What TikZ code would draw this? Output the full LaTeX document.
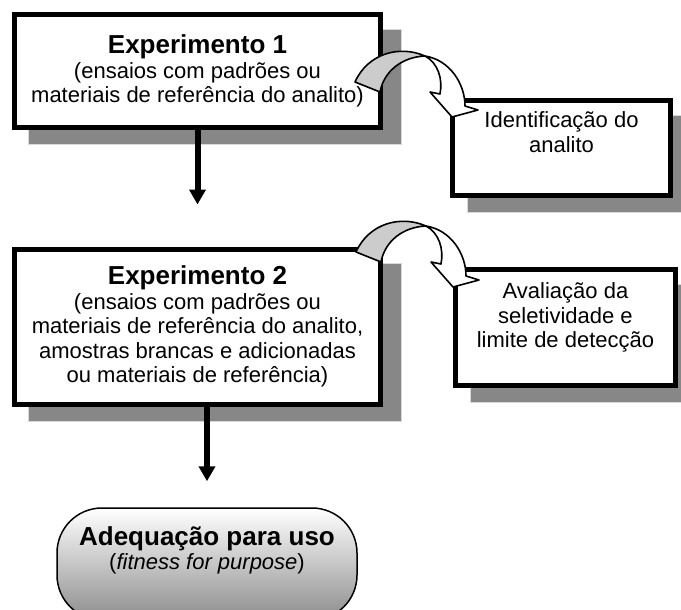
\documentclass[tikz,border=0pt]{standalone}
\usepackage{fontspec}
\setmainfont{Liberation Sans}
\usetikzlibrary{arrows.meta,
                shadows}

\definecolor{shadowgray}{gray}{0.53}
\definecolor{bandgray}{gray}{0.8}

\newcommand{\boxtitle}[1]{{\fontsize{26}{24.5}\selectfont\bfseries #1}}

\tikzset{
  bodyfont/.style = {font=\fontsize{22}{24.5}\selectfont},
  boxshadow/.style = {drop shadow={shadow xshift=17pt, shadow yshift=-16pt,
                      shadow scale=1.02, fill=shadowgray, draw=black!15,
                      line width=1pt, opacity=1}},
  mainbox/.style = {draw, rectangle, line width=5pt, fill=white,
                    align=center, bodyfont, boxshadow},
  sidebox/.style = {mainbox},
  endbox/.style = {draw, rectangle, line width=1.5pt, rounded corners=45pt,
                   minimum width=300pt, minimum height=112pt,
                   top color=white, bottom color=black!45,
                   align=center, bodyfont},
  flow/.style = {line width=6pt, -{Triangle[width=16pt, length=15pt]}},
  bendarrow/.pic = {
    \draw[line width=1.6pt, fill=white, line join=round]
      (-27,-61) .. controls (-2,-57) and (13,-33) .. (13,-11) -- (26,-7) -- (0,0)
      -- (-22,-25) -- (-12,-23) .. controls (-9,-38) and (-14,-54) .. (-27,-61) -- cycle;
    \draw[line width=1.6pt, fill=bandgray, line join=round]
      (-97,-35) .. controls (-84,-64) and (-52,-72) .. (-27,-61)
      .. controls (-50,-60) and (-68,-46) .. (-72,-25) -- cycle;
  }
}

\begin{document}
\begin{tikzpicture}%
    [x = 1pt, y = -1pt]
    \useasboundingbox (0,0) rectangle (681,610);

    \node[mainbox, minimum width=366pt, minimum height=113pt] (exp1) at (197.5,71)
        {\boxtitle{Experimento 1}\\(ensaios com padrões ou\\materiais de referência do analito)};
    \node[mainbox, minimum width=366pt, minimum height=155pt] (exp2) at (197.5,326.5)
        {\boxtitle{Experimento 2}\\(ensaios com padrões ou\\materiais de referência do analito,\\amostras brancas e adicionadas\\ou materiais de referência)};

    \node[sidebox, minimum width=218pt, minimum height=95pt] (ident) at (561.5,148)
        {Identificação do\\analito\\\strut};
    \node[sidebox, minimum width=220pt, minimum height=116pt] (seletiv) at (565.5,327.5)
        {Avaliação da\\seletividade e\\limite de detecção\\\mbox{}};

    \node[endbox] (fitness) at (207,564)
        {\boxtitle{Adequação para uso}\\(\textit{fitness for purpose})\\\strut};

    \draw[flow, shorten >=42pt] (exp1.south) -- (exp1.south |- exp2.north);
    \draw[flow, shorten >=26pt] (fitness.north |- exp2.south) -- (fitness.north);

    \pic at ([shift={(2,19)}]ident.north west) {bendarrow};
    \pic at ([shift={(0,20)}]seletiv.north west) {bendarrow};
\end{tikzpicture}
\end{document}
